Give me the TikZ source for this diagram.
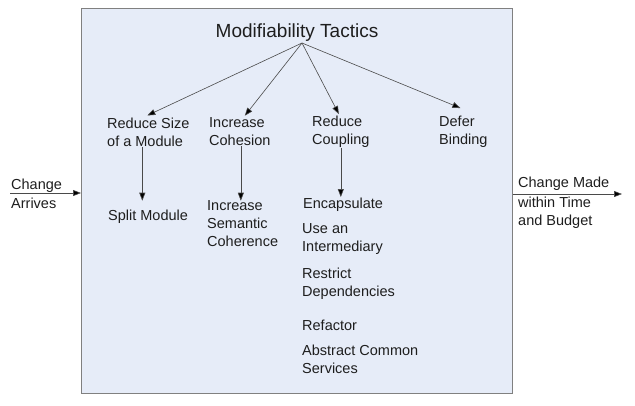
\documentclass[tikz,border=0pt]{standalone}
\usepackage{fontspec}
\setmainfont{Liberation Sans}
\usetikzlibrary{arrows.meta,calc}
\definecolor{boxfill}{HTML}{E6ECF8}
\definecolor{boxline}{HTML}{808080}
\definecolor{txt}{HTML}{1E1E1E}
\definecolor{arr}{HTML}{4A4A4A}
\tikzset{
  lbl/.style={inner sep=0pt, anchor=west, align=left, text=txt,
    font=\fontsize{14.5}{18}\selectfont},
  conn/.style={draw=arr, line width=0.6pt,
    -{Triangle[length=8pt,width=6pt,fill=black]}},
}
\begin{document}
\begin{tikzpicture}[x=1pt,y=-1pt]
\useasboundingbox (0,0) rectangle (635,405);
\fill[white] (0,0) rectangle (635,405);
\node[draw=boxline, fill=boxfill, line width=0.8pt, minimum width=431pt,
  minimum height=385pt, inner sep=0pt, anchor=north west] (box) at (81,8) {};
\node[inner sep=0pt, text=txt, font=\fontsize{19}{22}\selectfont] (title) at (297,33) {Modifiability Tactics};
\coordinate (apex) at (302,43);

\node[lbl] (rs) at (107,132) {Reduce Size\\of a Module};
\node[lbl] (ic) at (209,132) {Increase\\Cohesion};
\node[lbl] (rc) at (312,132) {Reduce\\Coupling};
\node[lbl] (db) at (439,132) {Defer\\Binding};

\node[lbl] (sm) at (108,217) {Split Module};
\node[lbl] (isc) at (207,224) {Increase\\Semantic\\Coherence};
\node[lbl] (enc) at (303,205) {Encapsulate};
\node[lbl] (ui) at (302,239) {Use an\\Intermediary};
\node[lbl] (rd) at (302,284) {Restrict\\Dependencies};
\node[lbl] (rf) at (302,325) {Refactor};
\node[lbl] (acs) at (302,359) {Abstract Common\\Services};

\node[lbl, font=\fontsize{14.5}{19}\selectfont] (ca) at (11,193.5) {Change\\Arrives};
\node[lbl] (cm) at (518,203) {Change Made\\[2pt]within Time\\and Budget};

\draw[conn] (apex) -- ([xshift=-1pt,yshift=2pt]rs.north);
\draw[conn] (apex) -- ([xshift=5pt,yshift=2pt]ic.north);
\draw[conn] (apex) -- ([xshift=-2pt,yshift=2pt]rc.north);
\draw[conn] (apex) -- ([xshift=-3pt,yshift=8pt]db.north);

\coordinate (v1) at ([xshift=-6pt]rs.south);
\coordinate (v2) at ([xshift=1pt]ic.south);
\coordinate (v3) at (rc.south);
\draw[conn] (v1) -- (v1 |- isc.north);
\draw[conn] (v2) -- (v2 |- isc.north);
\draw[conn] (v3) -- ([yshift=1pt]v3 |- enc.north);

\coordinate (inL) at (10,193);
\draw[conn] (inL) -- (inL -| box.west);
\coordinate (outR) at (622,194);
\draw[conn] (outR -| box.east) -- (outR);
\end{tikzpicture}
\end{document}
